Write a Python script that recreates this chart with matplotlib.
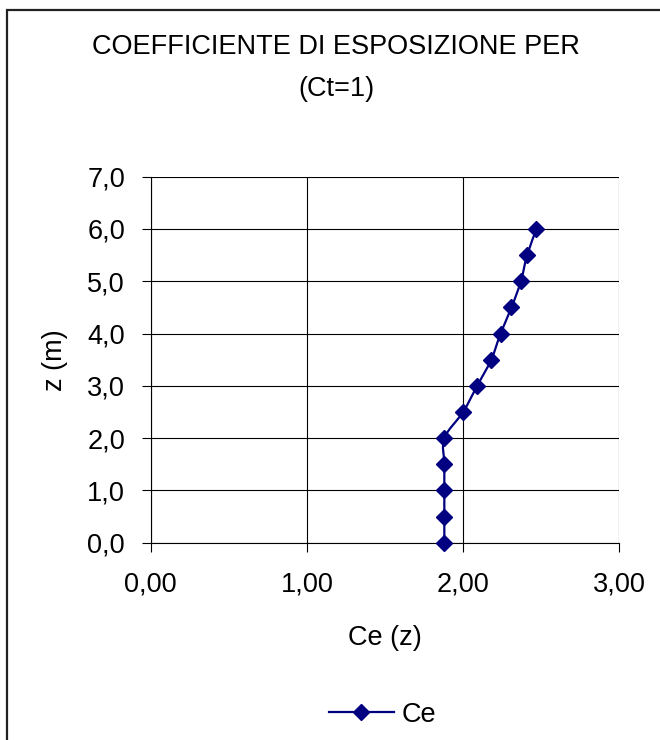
import matplotlib
matplotlib.use("Agg")
import matplotlib.pyplot as plt
from matplotlib.path import Path
from matplotlib.patches import PathPatch
from matplotlib.lines import Line2D

plt.rcParams["font.family"] = ["Liberation Sans", "DejaVu Sans"]

# Exposure coefficient Ce(z) with Ct = 1
z_values = [0.0, 0.5, 1.0, 1.5, 2.0, 2.5, 3.0, 3.5, 4.0, 4.5, 5.0, 5.5, 6.0]
ce_values = [1.88, 1.88, 1.88, 1.88, 1.88, 2.00, 2.09, 2.18, 2.24, 2.31, 2.37, 2.41, 2.47]

x_ticks = [0, 1, 2, 3]
x_labels = ["0,00", "1,00", "2,00", "3,00"]
y_ticks = [0, 1, 2, 3, 4, 5, 6, 7]
y_labels = ["0,0", "1,0", "2,0", "3,0", "4,0", "5,0", "6,0", "7,0"]

NAVY = "#000080"
FS = 19.5


def smooth_path(xs, ys, tension=1 / 6):
    # Bezier segments through the points, like a spreadsheet "smoothed line"
    verts = [(xs[0], ys[0])]
    codes = [Path.MOVETO]
    n = len(xs)
    for i in range(n - 1):
        x0, y0 = xs[max(i - 1, 0)], ys[max(i - 1, 0)]
        x1, y1 = xs[i], ys[i]
        x2, y2 = xs[i + 1], ys[i + 1]
        x3, y3 = xs[min(i + 2, n - 1)], ys[min(i + 2, n - 1)]
        c1 = (x1 + (x2 - x0) * tension, y1 + (y2 - y0) * tension)
        c2 = (x2 - (x3 - x1) * tension, y2 - (y3 - y1) * tension)
        verts += [c1, c2, (x2, y2)]
        codes += [Path.CURVE4] * 3
    return Path(verts, codes)


fig = plt.figure(figsize=(6.6, 7.4), dpi=100)
ax = fig.add_axes([0.2283, 0.2666, 0.7100, 0.4946])

ax.add_patch(PathPatch(smooth_path(ce_values, z_values), facecolor="none",
                       edgecolor=NAVY, lw=1.6, zorder=3))
ax.plot(ce_values, z_values, ls="none", marker="D", ms=8, color=NAVY,
        zorder=4, clip_on=False)

ax.set_xlim(0, 3)
ax.set_ylim(0, 7)
ax.set_xticks(x_ticks, x_labels)
ax.set_yticks(y_ticks, y_labels)
ax.tick_params(direction="out", length=6.5, width=0.8, labelsize=FS, color="black")
ax.tick_params(axis="x", pad=14)
ax.tick_params(axis="y", pad=12)
ax.grid(True, color="black", lw=0.8)
ax.set_axisbelow(True)
for side in ["top", "right"]:
    ax.spines[side].set_visible(False)
for side in ["left", "bottom"]:
    ax.spines[side].set_linewidth(0.8)

ax.set_xlabel("Ce (z)", fontsize=FS, labelpad=20)
ax.set_ylabel("z (m)", fontsize=FS, labelpad=14)

fig.text(0.509, 0.936, "COEFFICIENTE DI ESPOSIZIONE PER", ha="center",
         va="center", fontsize=FS)
fig.text(0.509, 0.880, "(Ct=1)", ha="center", va="center", fontsize=FS)

# legend below the plot
handle = Line2D([], [], color=NAVY, lw=1.6, marker="D", ms=8)
fig.legend([handle], ["Ce"], loc="center", bbox_to_anchor=(0.58, 0.034),
           frameon=False, fontsize=FS, handlelength=2.4, handletextpad=0.3)

# chart area frame (continues past the right and bottom edges)
fig.add_artist(plt.Rectangle((0.0106, -0.1), 1.2, 1.087, transform=fig.transFigure,
                             fill=False, edgecolor="#222222", lw=1.6))

fig.savefig("out.png", dpi=100)
